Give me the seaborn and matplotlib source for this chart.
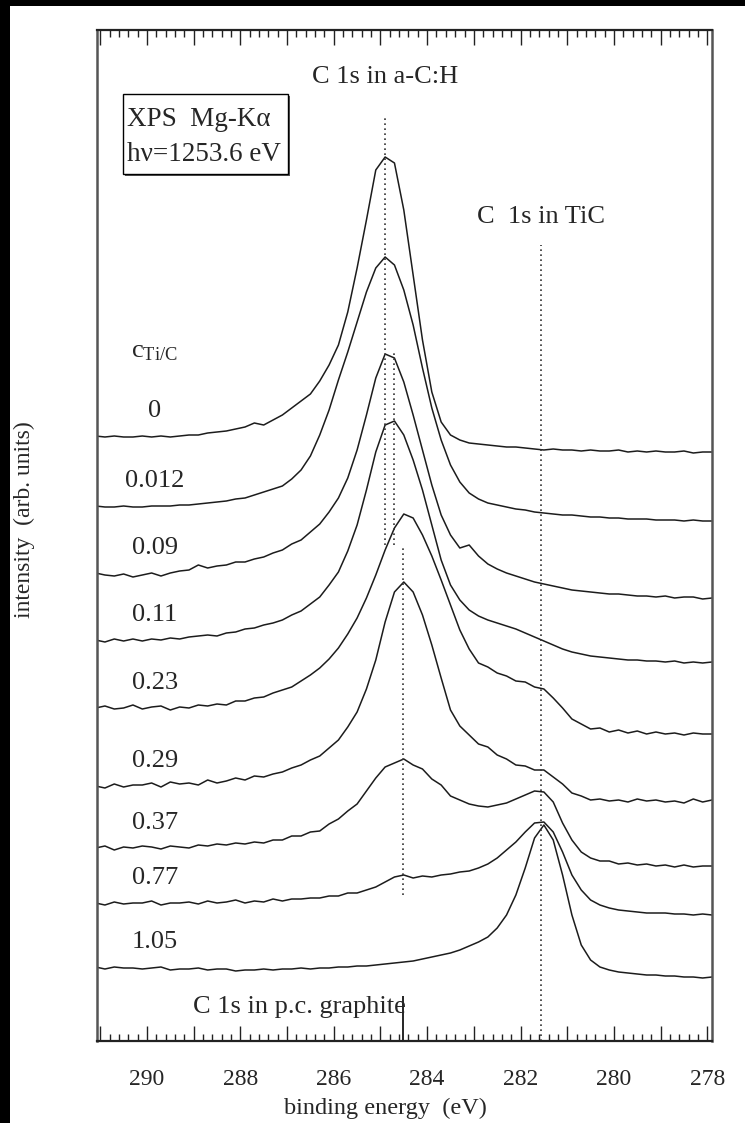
import pandas as pd
import seaborn as sns
import matplotlib.pyplot as plt
from matplotlib.ticker import MultipleLocator, FuncFormatter
from matplotlib.patches import Rectangle

# binding energy sampling (eV), read every 0.2 eV along the bottom axis
energy = [291.1, 290.9, 290.7, 290.5, 290.3, 290.1, 289.9, 289.7, 289.5, 289.3,
          289.1, 288.9, 288.7, 288.5, 288.3, 288.1, 287.9, 287.7, 287.5, 287.3,
          287.1, 286.9, 286.7, 286.5, 286.3, 286.1, 285.9, 285.7, 285.5, 285.3,
          285.1, 284.9, 284.7, 284.5, 284.3, 284.1, 283.9, 283.7, 283.5, 283.3,
          283.1, 282.9, 282.7, 282.5, 282.3, 282.1, 281.9, 281.7, 281.5, 281.3,
          281.1, 280.9, 280.7, 280.5, 280.3, 280.1, 279.9, 279.7, 279.5, 279.3,
          279.1, 278.9, 278.7, 278.5, 278.3, 278.1, 277.9]

# stacked spectra (arb. units, offsets included as in the figure)
c_0 = [605, 604, 605, 604, 604, 605, 604, 605, 604, 605,
       606, 606, 608, 609, 610, 612, 614, 618, 616, 621,
       626, 633, 640, 647, 660, 676, 696, 729, 773, 821,
       871, 884, 878, 831, 766, 701, 649, 619, 606, 601,
       598, 597, 596, 595, 594, 594, 593, 592, 591, 592,
       591, 591, 590, 591, 590, 590, 591, 589, 590, 589,
       590, 589, 589, 590, 588, 589, 589]
c_0012 = [535, 534, 534, 535, 534, 534, 535, 535, 535, 536,
          536, 537, 538, 539, 540, 542, 543, 546, 549, 552,
          555, 562, 571, 585, 606, 631, 661, 689, 719, 749,
          773, 784, 776, 751, 716, 673, 633, 601, 576, 559,
          548, 542, 538, 536, 534, 532, 531, 529, 528, 527,
          526, 526, 525, 524, 524, 523, 523, 522, 522, 522,
          521, 521, 521, 520, 521, 520, 520]
c_009 = [468, 466, 465, 467, 464, 466, 468, 465, 468, 470,
         471, 476, 473, 475, 476, 479, 479, 482, 484, 488,
         491, 497, 501, 509, 517, 529, 543, 563, 591, 626,
         663, 687, 683, 659, 626, 591, 556, 526, 506, 493,
         496, 485, 477, 472, 468, 465, 462, 459, 457, 455,
         453, 451, 450, 449, 448, 447, 447, 446, 445, 445,
         444, 445, 443, 444, 444, 442, 443]
c_011 = [401, 399, 402, 400, 402, 400, 402, 401, 403, 402,
         404, 405, 406, 405, 408, 409, 412, 413, 416, 418,
         421, 426, 430, 437, 444, 456, 469, 490, 516, 551,
         589, 616, 620, 606, 581, 551, 516, 481, 456, 441,
         431, 425, 421, 418, 415, 412, 408, 404, 400, 396,
         392, 389, 387, 385, 384, 383, 382, 381, 381, 380,
         380, 379, 380, 378, 379, 378, 379]
c_023 = [333, 335, 332, 333, 336, 332, 334, 335, 331, 334,
         333, 336, 335, 337, 336, 340, 340, 343, 344, 348,
         351, 354, 360, 366, 373, 382, 393, 407, 423, 443,
         466, 491, 513, 527, 523, 506, 485, 461, 436, 411,
         392, 378, 374, 368, 365, 360, 359, 354, 352, 343,
         333, 322, 317, 312, 313, 309, 311, 308, 310, 307,
         309, 307, 308, 306, 308, 307, 307]
c_029 = [255, 253, 257, 254, 256, 256, 258, 254, 259, 257,
         258, 256, 261, 258, 260, 263, 261, 265, 264, 267,
         269, 273, 276, 281, 285, 293, 301, 314, 329, 352,
         381, 419, 449, 459, 449, 426, 396, 363, 331, 315,
         306, 297, 294, 286, 282, 276, 275, 271, 271, 264,
         257, 248, 245, 241, 242, 240, 241, 239, 242, 240,
         241, 239, 240, 238, 242, 239, 241]
c_037 = [193, 195, 191, 194, 193, 195, 194, 192, 195, 194,
         193, 196, 195, 197, 196, 198, 197, 199, 198, 201,
         201, 205, 205, 209, 210, 217, 222, 230, 237, 250,
         263, 274, 278, 282, 276, 272, 262, 256, 245, 241,
         237, 235, 234, 236, 238, 242, 246, 250, 249, 239,
         218, 201, 189, 183, 180, 180, 177, 178, 176, 177,
         175, 176, 174, 176, 174, 175, 175]
c_077 = [138, 136, 139, 137, 138, 138, 140, 136, 138, 138,
         139, 137, 140, 138, 139, 141, 138, 140, 139, 142,
         140, 142, 142, 143, 143, 145, 145, 148, 148, 151,
         154, 159, 164, 166, 163, 165, 164, 166, 167, 169,
         170, 173, 177, 183, 191, 199, 209, 218, 219, 209,
         189, 166, 151, 141, 136, 133, 131, 130, 129, 128,
         128, 128, 127, 127, 126, 127, 126]
c_105 = [74, 72, 74, 73, 73, 72, 73, 74, 71, 72,
         72, 73, 71, 72, 72, 70, 71, 71, 72, 71,
         72, 72, 73, 72, 73, 73, 74, 74, 75, 75,
         76, 77, 78, 79, 80, 82, 84, 86, 88, 91,
         95, 99, 104, 113, 126, 146, 173, 203, 216, 201,
         166, 126, 96, 81, 74, 71, 69, 68, 67, 66,
         66, 65, 65, 64, 64, 63, 64]

conc_labels = ["0", "0.012", "0.09", "0.11", "0.23", "0.29", "0.37", "0.77", "1.05"]
spectra = [c_0, c_0012, c_009, c_011, c_023, c_029, c_037, c_077, c_105]

# reference energies of the C 1s lines (eV)
e_ach = [284.9, 284.72, 284.52]
e_tic = 281.56
e_graphite = 284.52

sns.set_style("ticks")
plt.rcParams["font.family"] = ["Liberation Serif", "DejaVu Serif"]
plt.rcParams["mathtext.fontset"] = "custom"
plt.rcParams["mathtext.rm"] = "Liberation Serif"
plt.rcParams["mathtext.it"] = "Liberation Serif:italic"

W, H = 745, 1123
fig = plt.figure(figsize=(W / 100, H / 100), dpi=100)
fig.patch.set_facecolor("white")
ax = fig.add_axes([97 / W, 82 / H, 615 / W, 1011 / H])

df = pd.DataFrame({
    "energy": energy * len(spectra),
    "intensity": sum(spectra, []),
    "sample": [lab for lab in conc_labels for _ in energy],
})
sns.lineplot(data=df, x="energy", y="intensity", units="sample", estimator=None,
             color="#1c1c1c", lw=1.1, ax=ax, legend=False)

ax.set_xlim(291.07, 277.9)
ax.set_ylim(0, 1011)

# guide lines
dot = dict(color="#333333", lw=1.2, linestyles=(0, (1, 2)))
ax.vlines(e_ach[0], 496, 925, **dot)
ax.vlines(e_ach[1], 496, 691, **dot)
ax.vlines(e_ach[2], 146, 493, **dot)
ax.vlines(e_tic, 0, 796, **dot)
ax.vlines(e_graphite, 0, 45, color="black", lw=1.2)

# annotations
ax.text(e_ach[0], 958, "C 1s in a-C:H", ha="center", va="baseline", fontsize=19)
ax.text(e_tic, 818, "C  1s in TiC", ha="center", va="baseline", fontsize=19)
ax.text(e_graphite - 0.06, 34, "C 1s in p.c. graphite", ha="right", va="center", fontsize=19)
ax.text(290.35, 689, r"c$_{\rm Ti/C}$", ha="left", va="center", fontsize=19)
for lab, spec in zip(conc_labels, spectra):
    ax.text(289.83, spec[0] + 25, lab, ha="center", va="center", fontsize=19)

# source box
ax.add_patch(Rectangle((0.0455, 0.8555), 0.2683, 0.0791, transform=ax.transAxes,
                       fc="#555555", ec="none", zorder=3))
ax.add_patch(Rectangle((0.0423, 0.8576), 0.2683, 0.0791, transform=ax.transAxes,
                       fc="white", ec="black", lw=1.0, zorder=4))
ax.text(0.0488, 0.9050, "XPS  Mg-K\u03b1", transform=ax.transAxes, ha="left",
        va="baseline", fontsize=19.5, zorder=5)
ax.text(0.0488, 0.8704, "h\u03bd=1253.6 eV", transform=ax.transAxes, ha="left",
        va="baseline", fontsize=19.5, zorder=5)

# axes styling
ax.xaxis.set_major_locator(MultipleLocator(1))
ax.xaxis.set_minor_locator(MultipleLocator(0.2))
ax.xaxis.set_major_formatter(FuncFormatter(lambda v, _: f"{v:.0f}" if round(v) % 2 == 0 else ""))
ax.tick_params(axis="x", which="both", direction="in", top=True, bottom=True,
               color="#222222", width=1.0)
ax.tick_params(axis="x", which="major", length=11, labelsize=17, pad=20)
ax.tick_params(axis="x", which="minor", length=5)
ax.set_yticks([])
ax.set_xlabel("")
ax.set_ylabel("")
for side in ["top", "bottom"]:
    ax.spines[side].set_color("#222222")
    ax.spines[side].set_linewidth(1.6)
for side in ["left", "right"]:
    ax.spines[side].set_color("#555555")
    ax.spines[side].set_linewidth(1.8)

fig.text(385 / W, 1 - 1108 / H, "binding energy  (eV)", ha="center", va="center", fontsize=17.5)
fig.text(24 / W, 1 - 520 / H, "intensity  (arb. units)", ha="center", va="center",
         rotation=90, fontsize=17)

# dark frame around the scanned page
fig.add_artist(Rectangle((0, 0), 10 / W, 1, transform=fig.transFigure, fc="black", ec="none"))
fig.add_artist(Rectangle((0, 1 - 6 / H), 1, 6 / H, transform=fig.transFigure, fc="black", ec="none"))

fig.savefig("out.png", dpi=100)
